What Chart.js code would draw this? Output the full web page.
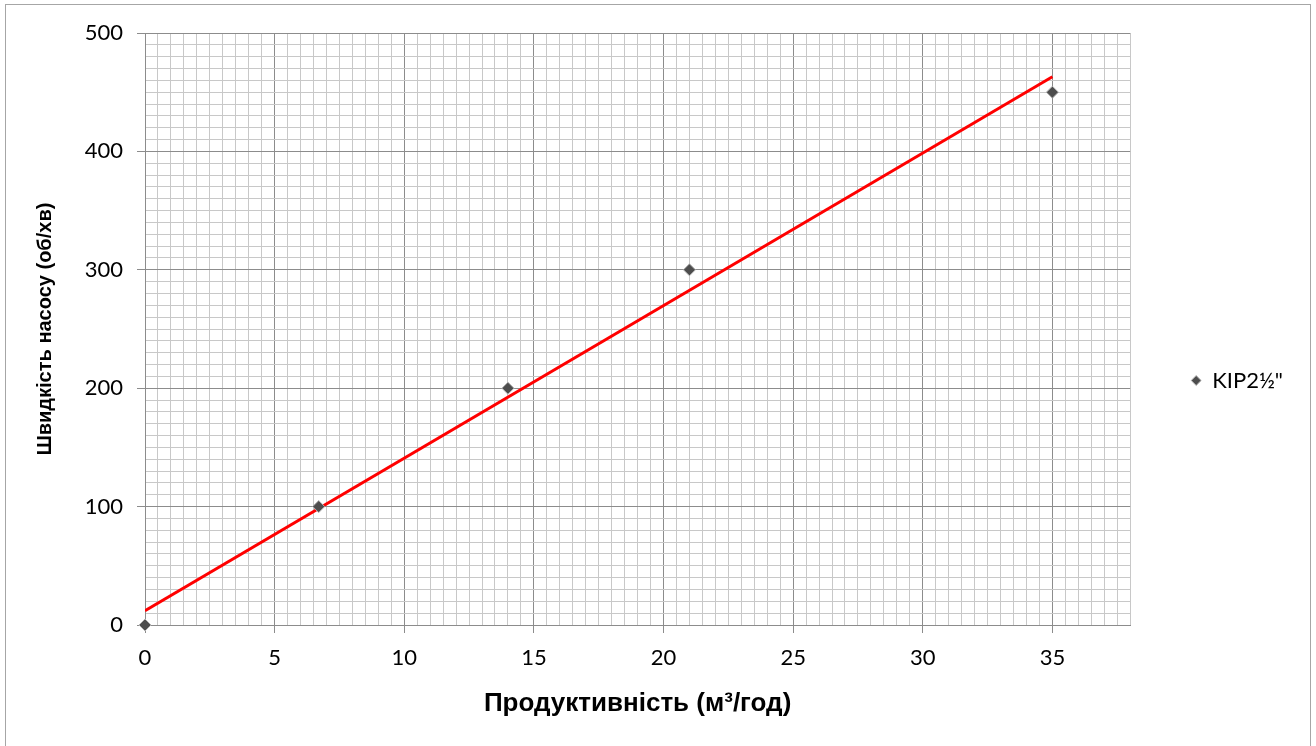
<!DOCTYPE html>
<html>
<head>
<meta charset="utf-8">
<script src="https://cdn.jsdelivr.net/npm/chart.js@4.4.1/dist/chart.umd.min.js"></script>
<style>
  html, body { margin: 0; padding: 0; background: #fff; }
  #wrap { position: relative; width: 1316px; height: 746px; }
  #frame { position: absolute; left: 5px; top: 4px; width: 1304px; height: 744px; border: 1px solid #a6a6a6; pointer-events: none; }
</style>
</head>
<body>
<div id="wrap">
  <canvas id="pumpChart"></canvas>
  <div id="frame"></div>
</div>
<script>
// measured points
const productivity = [0, 6.7, 14, 21, 35];
const pumpSpeed = [0, 100, 200, 300, 450];
const seriesName = 'KIP2½"';

// linear trend line (ends)
const trendX = [0, 35];
const trendY = [12, 463];

const xTitle = 'Продуктивність (м³/год)';
const yTitle = 'Швидкість насосу (об/хв)';

const majorGrid = '#8c8c8c';
const minorGrid = '#c8c8c8';

const ctx = document.getElementById('pumpChart').getContext('2d');
const pumpChart = new Chart(ctx, {
  type: 'scatter',
  data: {
    datasets: [{
      label: seriesName,
      data: productivity.map((x, i) => ({ x: x, y: pumpSpeed[i] })),
      pointStyle: 'rectRot',
      pointRadius: 6,
      pointHoverRadius: 6,
      backgroundColor: '#4d4d4d',
      borderColor: '#b0b0b0',
      borderWidth: 1,
      clip: false,
      order: 1
    }, {
      label: 'trend',
      type: 'line',
      data: trendX.map((x, i) => ({ x: x, y: trendY[i] })),
      borderColor: '#ff0000',
      borderWidth: 3,
      pointRadius: 0,
      fill: false,
      order: 2
    }]
  },
  options: {
    responsive: true,
    maintainAspectRatio: false,
    devicePixelRatio: 1,
    animation: false,
    layout: {
      padding: { left: 0, top: 33, right: 23, bottom: 18 }
    },
    scales: {
      x: {
        type: 'linear',
        min: 0,
        max: 38,
        afterFit: scale => { scale.height = 103; },
        border: { color: majorGrid },
        grid: {
          color: c => (c.tick && c.tick.value % 5 === 0) ? majorGrid : minorGrid,
          tickColor: c => (c.tick && c.tick.value % 5 === 0) ? majorGrid : 'rgba(0,0,0,0)',
          tickLength: 8
        },
        ticks: {
          stepSize: 0.5,
          autoSkip: false,
          maxTicksLimit: 1000,
          maxRotation: 0,
          minRotation: 0,
          padding: 12,
          color: '#000',
          font: { family: 'Lato', size: 22 },
          callback: v => (v % 5 === 0 ? v : '')
        },
        title: {
          display: true,
          text: xTitle,
          color: '#000',
          font: { family: 'Liberation Sans', size: 26, weight: 'bold' },
          padding: { top: 0, bottom: 9 }
        }
      },
      y: {
        min: 0,
        max: 500,
        afterFit: scale => { scale.width = 145; },
        border: { color: majorGrid },
        grid: {
          color: c => (c.tick && c.tick.value % 100 === 0) ? majorGrid : minorGrid,
          tickColor: c => (c.tick && c.tick.value % 100 === 0) ? majorGrid : 'rgba(0,0,0,0)',
          tickLength: 8
        },
        ticks: {
          stepSize: 10,
          autoSkip: false,
          maxTicksLimit: 1000,
          padding: 14,
          color: '#000',
          font: { family: 'Lato', size: 22 },
          callback: v => (v % 100 === 0 ? v : '')
        },
        title: {
          display: true,
          text: yTitle,
          color: '#000',
          font: { family: 'Liberation Sans', size: 20, weight: 'bold' },
          padding: { top: 33, bottom: 0 }
        }
      }
    },
    plugins: {
      legend: {
        display: true,
        position: 'right',
        labels: {
          filter: item => item.datasetIndex === 0,
          usePointStyle: true,
          boxWidth: 10,
          boxHeight: 7,
          padding: 61,
          color: '#000',
          font: { family: 'Lato', size: 22 }
        }
      },
      tooltip: { enabled: false }
    }
  }
});
</script>
</body>
</html>
